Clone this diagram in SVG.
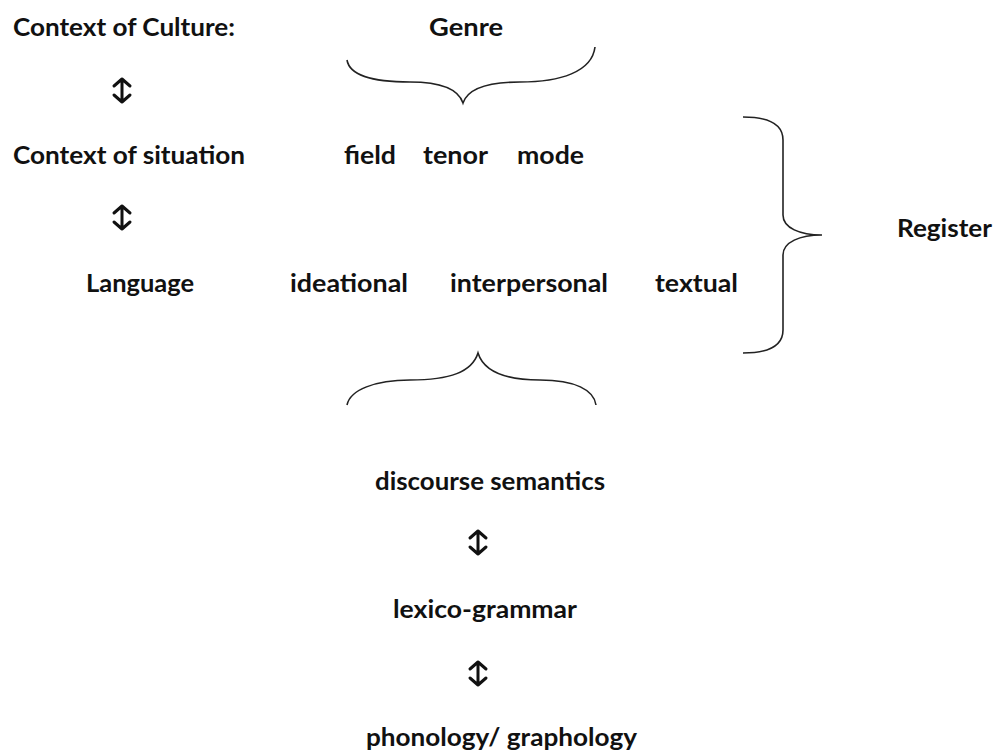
<svg xmlns="http://www.w3.org/2000/svg" width="1000" height="754" viewBox="0 0 1000 754">
<style>
text{font-family:Lato,"Open Sans","Liberation Sans",sans-serif;font-weight:bold;font-size:24px;fill:#111}
.br{fill:none;stroke:#222;stroke-width:1.6}
.ar{fill:none;stroke:#111;stroke-width:3;stroke-linecap:round;stroke-linejoin:round}
</style>
<rect width="1000" height="754" fill="#fff"/>
<g id="connectors">
<path class="ar" d="M122 79V102M114 86L122 79L130 86M114 95L122 102L130 95"/>
<path class="ar" d="M122 206V229M114 213L122 206L130 213M114 222L122 229L130 222"/>
<path class="ar" d="M478 531V554M470 538L478 531L486 538M470 547L478 554L486 547"/>
<path class="ar" d="M478 662V685M470 669L478 662L486 669M470 678L478 685L486 678"/>
</g>
<g id="brace-genre"><path class="br" d="M347 60C350 78 380 82 410 82C440 82 458 88 463 103C468 88 488 82 520 82C560 82 592 72 595 47"/></g>
<g id="brace-register"><path class="br" d="M743 117C770 117 783 125 783 140V215C783 228 800 235 822 235C800 235 783 242 783 255V330C783 345 770 353 743 353"/></g>
<g id="brace-language"><path class="br" d="M347 405C350 390 375 380 410 380C450 380 472 372 478 353C484 372 506 380 540 380C575 380 594 390 596 405"/></g>
<g id="n-culture"><text x="13" y="36" textLength="222" lengthAdjust="spacingAndGlyphs">Context of Culture:</text></g>
<g id="n-genre"><text x="429" y="36" textLength="74" lengthAdjust="spacingAndGlyphs">Genre</text></g>
<g id="n-situation"><text x="13" y="164" textLength="232" lengthAdjust="spacingAndGlyphs">Context of situation</text></g>
<g id="n-field"><text x="344" y="164" textLength="52" lengthAdjust="spacingAndGlyphs">field</text></g>
<g id="n-tenor"><text x="423" y="164" textLength="65" lengthAdjust="spacingAndGlyphs">tenor</text></g>
<g id="n-mode"><text x="517" y="164" textLength="67" lengthAdjust="spacingAndGlyphs">mode</text></g>
<g id="n-language"><text x="86" y="292" textLength="108" lengthAdjust="spacingAndGlyphs">Language</text></g>
<g id="n-ideational"><text x="290" y="292" textLength="118" lengthAdjust="spacingAndGlyphs">ideational</text></g>
<g id="n-interpersonal"><text x="450" y="292" textLength="158" lengthAdjust="spacingAndGlyphs">interpersonal</text></g>
<g id="n-textual"><text x="655" y="292" textLength="83" lengthAdjust="spacingAndGlyphs">textual</text></g>
<g id="n-register"><text x="897" y="237" textLength="95" lengthAdjust="spacingAndGlyphs">Register</text></g>
<g id="n-discourse"><text x="375" y="490" textLength="230" lengthAdjust="spacingAndGlyphs">discourse semantics</text></g>
<g id="n-lexico"><text x="393" y="618" textLength="184" lengthAdjust="spacingAndGlyphs">lexico-grammar</text></g>
<g id="n-phonology"><text x="366" y="746" textLength="271" lengthAdjust="spacingAndGlyphs">phonology/ graphology</text></g>
</svg>
